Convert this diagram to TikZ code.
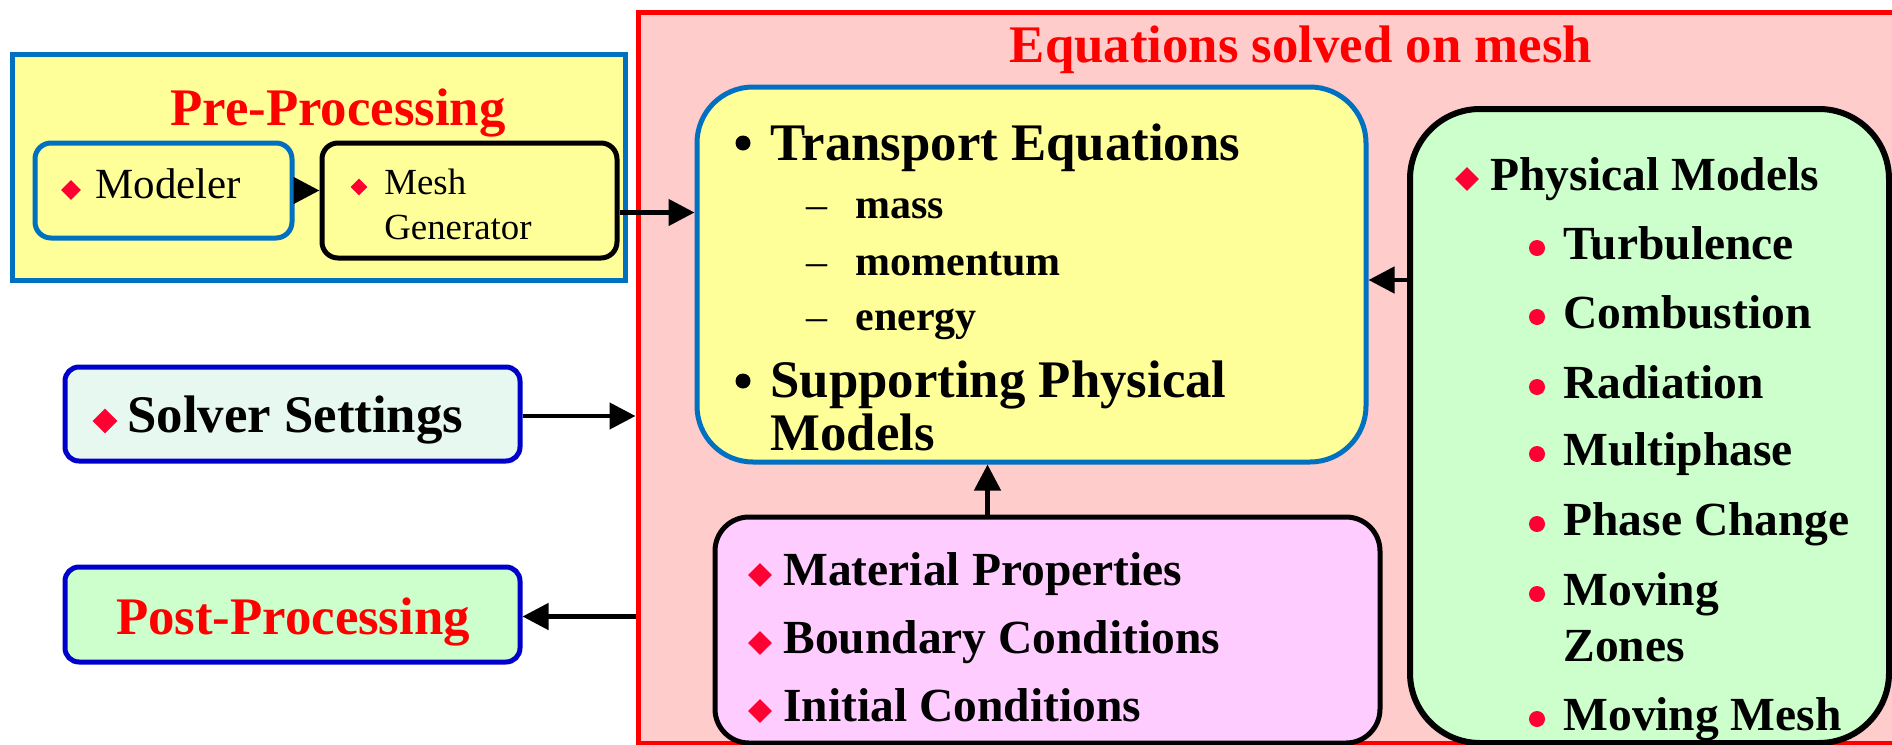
\documentclass[tikz,border=0pt]{standalone}
\usepackage{fontspec}
\setmainfont{Liberation Serif}
\usepackage{xcolor}
\usetikzlibrary{arrows.meta,shapes.geometric}
\definecolor{eqRed}{HTML}{FF0000}
\definecolor{eqPink}{HTML}{FFCCCC}
\definecolor{boxYellow}{HTML}{FFFF99}
\definecolor{boxBlue}{HTML}{0070C0}
\definecolor{navyBlue}{HTML}{0000CC}
\definecolor{mintFill}{HTML}{E6F8EF}
\definecolor{greenFill}{HTML}{CCFFCC}
\definecolor{lilacFill}{HTML}{FFCCFF}
\definecolor{bulRed}{HTML}{FF0033}
\newcommand{\fbig}{\fontsize{26.4}{30}\selectfont\bfseries}
\newcommand{\fmid}{\fontsize{23.75}{28}\selectfont\bfseries}
\newcommand{\fsub}{\fontsize{21}{24}\selectfont\bfseries}

\begin{document}
\begin{tikzpicture}[x=0.5pt,y=-0.5pt,
    box/.style={draw,line width=2.5pt,inner sep=0pt},
    arr/.style={-{Triangle[length=13pt,width=13pt]},line width=2.3pt},
    txt/.style={anchor=base west,inner sep=0pt},
    rdia/.style={diamond,fill=bulRed,inner sep=0pt,minimum size=12pt},
    rdot/.style={circle,fill=bulRed,inner sep=0pt,minimum size=8pt},
    bdot/.style={circle,fill=black,inner sep=0pt,minimum size=7.5pt}]
    \useasboundingbox (0,0) rectangle (1892,745);
    \clip (0,0) rectangle (1892,745);

    \node[box,draw=boxBlue,fill=boxYellow,minimum width=306.5pt,minimum height=113pt] (prebox) at (318.5,167) {};
    \node[box,draw=boxBlue,fill=boxYellow,rounded corners=8pt,minimum width=128.5pt,minimum height=47.5pt] (modeler) at (163.5,190.5) {};
    \node[box,fill=boxYellow,rounded corners=8pt,minimum width=147.5pt,minimum height=57.5pt] (mesh) at (469.5,200.5) {};
    \node[box,draw=navyBlue,fill=mintFill,rounded corners=7pt,minimum width=227.5pt,minimum height=47pt] (solver) at (292.5,414) {};
    \node[box,draw=navyBlue,fill=greenFill,rounded corners=7pt,minimum width=227.5pt,minimum height=47.5pt] (post) at (292.5,614.5) {};
    \node[box,draw=eqRed,fill=eqPink,minimum width=646pt,minimum height=365.5pt] (eqbox) at (1284,377.5) {};
    \node[box,draw=boxBlue,fill=boxYellow,rounded corners=28pt,minimum width=334.5pt,minimum height=187.5pt] (trans) at (1031.5,274.5) {};
    \node[box,line width=3pt,fill=greenFill,rounded corners=35pt,minimum width=239.5pt,minimum height=317pt] (phys) at (1649.5,426) {};
    \node[box,fill=lilacFill,rounded corners=17pt,minimum width=332.5pt,minimum height=113pt] (matl) at (1047.5,630) {};

    \node[txt,anchor=base,font=\fbig,text=eqRed] (pretitle) at (338,125) {Pre-Processing};
    \node[rdia,minimum size=10pt] (modb) at (71,190) {};
    \node[txt,font=\fontsize{21.5}{24}\selectfont] (modtxt) at (95,198) {Modeler};
    \node[rdia,minimum size=8.5pt] (meshb) at (359,187) {};
    \node[txt,font=\fontsize{18.4}{22}\selectfont] (meshtxt) at (384,194) {Mesh};
    \node[txt,font=\fontsize{18.4}{22}\selectfont] (gentxt) at (384,239) {Generator};

    \node[txt,anchor=base,font=\fbig,text=eqRed] (eqtitle) at (1301,62) {Equations solved on mesh};
    \node[bdot] (transb) at (743,143) {};
    \node[txt,font=\fbig] (transtxt) at (770,160) {Transport Equations};
    \node[txt,font=\fsub] (masstxt) at (806,218) {{\mdseries –}\hspace{14pt}mass};
    \node[txt,font=\fsub] (momtxt) at (806,275) {{\mdseries –}\hspace{14pt}momentum};
    \node[txt,font=\fsub] (enetxt) at (806,330) {{\mdseries –}\hspace{14pt}energy};
    \node[bdot] (suppb) at (743,381) {};
    \node[txt,font=\fbig] (supptxt) at (770,397) {Supporting Physical};
    \node[txt,font=\fbig] (modelstxt) at (770,450) {Models};

    \node[rdia,minimum size=12.5pt] (solvb) at (105,421) {};
    \node[txt,font=\fbig] (solvtxt) at (127,432) {Solver Settings};
    \node[txt,anchor=base,font=\fbig,text=eqRed] (posttxt) at (293,634) {Post-Processing};

    \node[rdia] (matb) at (760,575) {};
    \node[txt,font=\fmid] (mattxt) at (783,585) {Material Properties};
    \node[rdia] (bcb) at (760,643) {};
    \node[txt,font=\fmid] (bctxt) at (783,653) {Boundary Conditions};
    \node[rdia] (icb) at (760,711) {};
    \node[txt,font=\fmid] (ictxt) at (783,721) {Initial Conditions};

    \node[rdia] (physb) at (1467,179) {};
    \node[txt,font=\fmid] (phystxt) at (1490,190) {Physical Models};
    \node[rdot] (turbb) at (1537,248) {};
    \node[txt,font=\fmid] (turbtxt) at (1563,259) {Turbulence};
    \node[rdot] (combb) at (1537,317) {};
    \node[txt,font=\fmid] (combtxt) at (1563,328) {Combustion};
    \node[rdot] (radb) at (1537,387) {};
    \node[txt,font=\fmid] (radtxt) at (1563,398) {Radiation};
    \node[rdot] (multb) at (1537,454) {};
    \node[txt,font=\fmid] (multtxt) at (1563,465) {Multiphase};
    \node[rdot] (phaseb) at (1537,524) {};
    \node[txt,font=\fmid] (phasetxt) at (1563,535) {Phase Change};
    \node[rdot] (zoneb) at (1537,594) {};
    \node[txt,font=\fmid] (zonetxt) at (1563,605) {Moving};
    \node[txt,font=\fmid] (zonetxt2) at (1563,661) {Zones};
    \node[rdot] (mmeshb) at (1537,719) {};
    \node[txt,font=\fmid] (mmeshtxt) at (1563,730) {Moving Mesh};

    \draw[arr] (modeler.east) -- (modeler.east -| mesh.west);
    \draw[arr] ([yshift=-6pt]mesh.east) -- ([yshift=-6pt]mesh.east -| trans.west);
    \draw[arr] ([yshift=73pt]phys.west) -- ([yshift=73pt]phys.west -| trans.east);
    \draw[arr] ([xshift=-30pt]matl.north) -- ([xshift=-30pt]matl.north |- trans.south);
    \draw[arr] ([yshift=-1pt]solver.east) -- ([yshift=-1pt]solver.east -| eqbox.west);
    \draw[arr] ([yshift=-1pt]post.east -| eqbox.west) -- ([yshift=-1pt]post.east);
  \end{tikzpicture}
\end{document}
